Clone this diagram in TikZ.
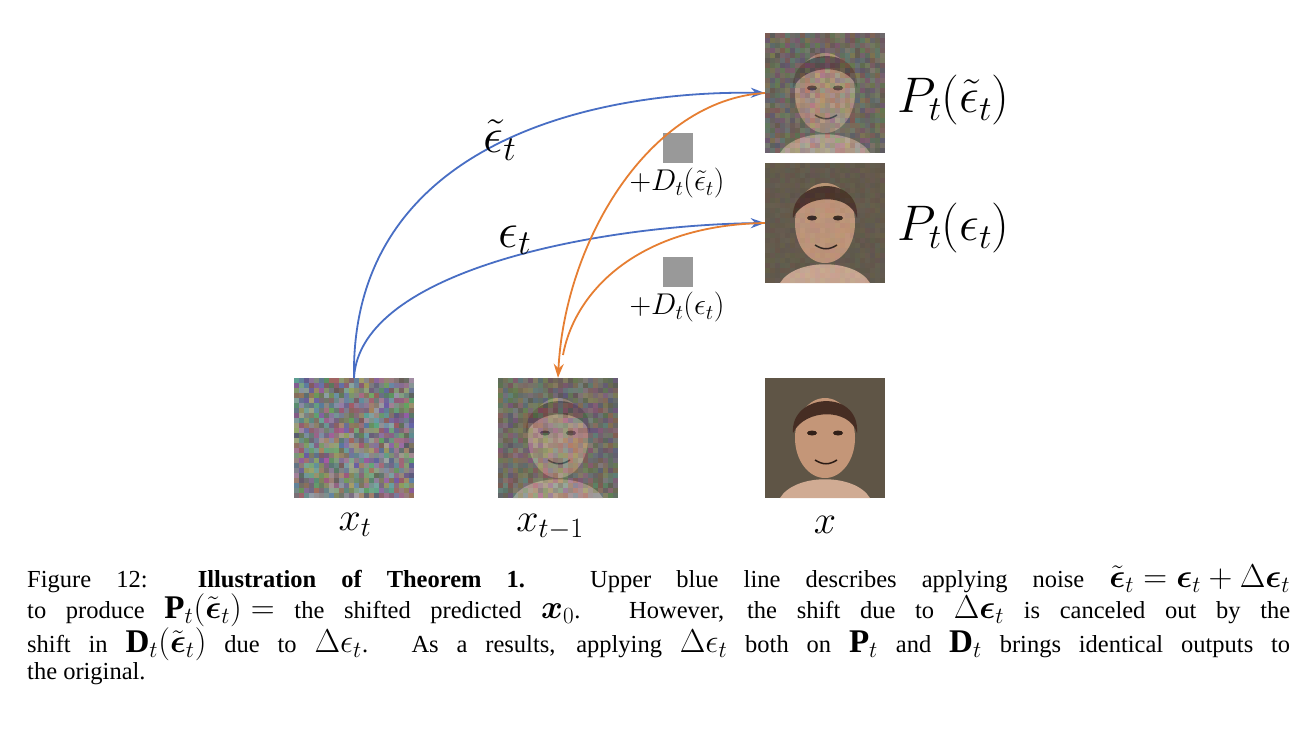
\RequirePackage{fix-cm}
\documentclass[tikz,border=0pt]{standalone}
\usepackage{amsmath,amssymb}
\usepackage{fontspec}
\setmainfont{Liberation Serif}
\usetikzlibrary{arrows.meta}
\definecolor{bl}{RGB}{72,110,196}
\definecolor{or}{RGB}{230,126,50}
\definecolor{skin}{RGB}{196,150,120}
\definecolor{hair}{RGB}{70,45,35}
\definecolor{bgg}{RGB}{95,85,70}
\newcommand{\capm}[1]{\scalebox{1.35}{$#1$}}
\tikzset{blue arc/.style={draw=bl,line width=1.8pt,-{Stealth[length=14pt,width=10pt]}},
orange arc/.style={draw=or,line width=1.8pt,-{Stealth[length=14pt,width=10pt]}},
big/.style={font=\fontsize{40}{44}\selectfont},
huge/.style={font=\fontsize{50}{54}\selectfont},
small/.style={font=\fontsize{30}{33}\selectfont},
img/.style={minimum width=120pt,minimum height=120pt,inner sep=0pt,draw=none}}
\newcommand{\noisepatch}[3]{% x y opacity
  \foreach \i in {0,...,23}{\foreach \j in {0,...,23}{
    \pgfmathsetmacro{\rr}{0.35+0.3*rnd}\pgfmathsetmacro{\gg}{0.35+0.3*rnd}\pgfmathsetmacro{\bb}{0.35+0.3*rnd}
    \definecolor{nc}{rgb}{\rr,\gg,\bb}
    \fill[nc,opacity=#3] (#1+\i*5,#2+\j*5) rectangle ++(5,5);}}}
\newcommand{\facepic}[2]{% x y (top-left)
  \fill[bgg] (#1,#2) rectangle ++(120,120);
  \fill[skin!80!white] (#1+15,#2+120) .. controls (#1+30,#2+95) and (#1+90,#2+95) .. (#1+105,#2+120) -- cycle;
  \fill[skin] (#1+60,#2+60) ellipse (30 and 40);
  \fill[hair] (#1+28,#2+55) .. controls (#1+25,#2+15) and (#1+95,#2+10) .. (#1+92,#2+55) .. controls (#1+85,#2+30) and (#1+40,#2+30) .. cycle;
  \fill[hair!70!black] (#1+47,#2+55) ellipse (5 and 2.5);
  \fill[hair!70!black] (#1+73,#2+55) ellipse (5 and 2.5);
  \draw[hair!60!black,line width=1.5pt] (#1+50,#2+82) .. controls (#1+58,#2+87) and (#1+64,#2+87) .. (#1+72,#2+82);}
\begin{document}
\begin{tikzpicture}[x=1pt,y=-1pt]
\useasboundingbox[fill=white] (0,0) rectangle (1316,744);
\pgfmathsetseed{7}
\facepic{765}{33}\noisepatch{765}{33}{0.45}
\facepic{765}{163}\noisepatch{765}{163}{0.12}
\noisepatch{294}{378}{1}
\facepic{498}{378}\noisepatch{498}{378}{0.55}
\facepic{765}{378}
\node[img] (pe) at (825,93) {};
\node[img] (pn) at (825,223) {};
\node[img] (xt) at (354,438) {};
\node[img] (xt1) at (558,438) {};
\node[img] (x) at (825,438) {};
\fill[gray!80] (663,133) rectangle (693,163);
\fill[gray!80] (663,257) rectangle (693,287);
\node[huge,anchor=west,inner sep=0pt] (lpe) at (897,100) {$P_t(\tilde{\epsilon}_t)$};
\node[huge,anchor=west,inner sep=0pt] (lpn) at (897,228) {$P_t(\epsilon_t)$};
\node[big] (lxt) at (355,525) {$x_t$};
\node[big] (lxt1) at (550,527) {$x_{t-1}$};
\node[big] (lx) at (825,525) {$x$};
\node[small] (d1) at (677,183) {$+D_t(\tilde{\epsilon}_t)$};
\node[small] (d2) at (677,307) {$+D_t(\epsilon_t)$};
\coordinate (s) at (xt.north);
\draw[blue arc] (s) .. controls (350,140) and (600,90) .. (pe.west);
\draw[blue arc] (s) .. controls (360,270) and (600,225) .. (pn.west);
\draw[orange arc] (pe.west) .. controls (650,100) and (565,240) .. (xt1.north);
\draw[or,line width=1.8pt] (pn.west) .. controls (640,225) and (575,290) .. (563,355);
\node[huge] (le) at (500,140) {$\tilde{\epsilon}_t$};
\node[huge] (ln) at (515,240) {$\epsilon_t$};
\node[anchor=north west,text width=1263pt,align=justify,inner sep=0pt] (cap) at (27,565) {\fontsize{24.5}{24.8}\selectfont Figure 12:\ \ \textbf{Illustration of Theorem 1.} Upper blue line describes applying noise \capm{\tilde{\boldsymbol\epsilon}_t=\boldsymbol\epsilon_t+\Delta\boldsymbol\epsilon_t}\linebreak to produce \capm{\mathbf{P}_t(\tilde{\boldsymbol\epsilon}_t)=} the shifted predicted \capm{\boldsymbol{x}_0}. However, the shift due to \capm{\Delta\boldsymbol\epsilon_t} is canceled out by the\linebreak shift in \capm{\mathbf{D}_t(\tilde{\boldsymbol\epsilon}_t)} due to \capm{\Delta\epsilon_t}. As a results, applying \capm{\Delta\epsilon_t} both on \capm{\mathbf{P}_t} and \capm{\mathbf{D}_t} brings identical outputs to\linebreak the original.};
\end{tikzpicture}
\end{document}
